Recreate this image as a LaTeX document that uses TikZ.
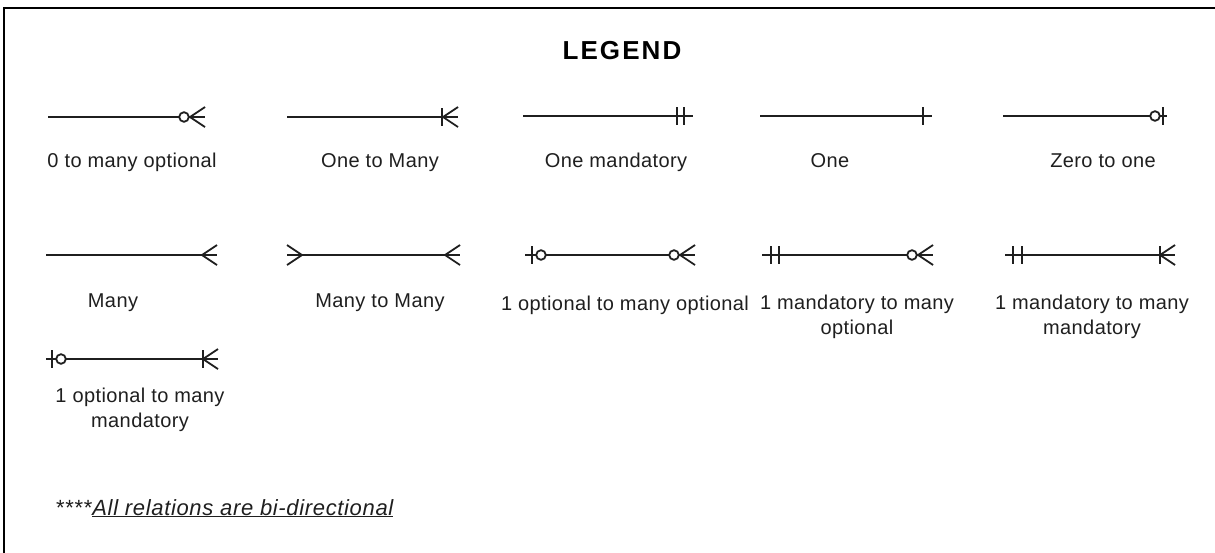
\documentclass[tikz,border=0pt]{standalone}
\usepackage{fontspec}
\setmainfont{Liberation Sans}
\newfontfamily\lblfont{Liberation Sans}[LetterSpace=2]
\newfontfamily\ttlfont{Liberation Sans}[LetterSpace=8]
\newfontfamily\ftfont{Liberation Sans}[LetterSpace=3]
\begin{document}
\begin{tikzpicture}[x=1pt,y=-1pt,
  rel/.style={line width=1.8pt, draw=black!88},
  lbl/.style={font=\lblfont\fontsize{20}{25}\selectfont, text=black!88, align=center, inner sep=0pt},
  crowfoot/.pic={\draw[rel] (-15,0) -- (0,-10) (-15,0) -- (0,10);},
  tick/.pic={\draw[rel] (0,-9) -- (0,9);},
  ring/.pic={\draw[rel,fill=white] (0,0) circle[radius=4.8pt];},
]
\useasboundingbox (0,0) rectangle (1215,552);
\fill[white] (0,0) rectangle (1215,552);
\draw[line width=2pt] (4,570) -- (4,8) -- (1230,8);

\node[font=\ttlfont\bfseries\fontsize{26}{30}\selectfont, anchor=base, inner sep=0pt] (title) at (622,59) {LEGEND};

% Row 1
\coordinate (a1) at (48,117);   \coordinate (a2) at (205,117);
\coordinate (b1) at (287,117);  \coordinate (b2) at (458,117);
\coordinate (c1) at (523,116);  \coordinate (c2) at (693,116);
\coordinate (d1) at (760,116);  \coordinate (d2) at (932,116);
\coordinate (e1) at (1003,116); \coordinate (e2) at (1167,116);
\draw[rel] (a1) -- (a2);
\draw[rel] (b1) -- (b2);
\draw[rel] (c1) -- (c2);
\draw[rel] (d1) -- (d2);
\draw[rel] (e1) -- (e2);
\path (a2) pic {crowfoot} (184,117) pic {ring};
\path (b2) pic {crowfoot} (442,117) pic {tick};
\path (677,116) pic {tick} (684,116) pic {tick};
\path (923,116) pic {tick};
\path (1155,116) pic {ring} (1163,116) pic {tick};

\node[lbl, anchor=base] (la) at (132,167) {0 to many optional};
\node[lbl, anchor=base] (lb) at (380,167) {One to Many};
\node[lbl, anchor=base] (lc) at (616,167) {One mandatory};
\node[lbl, anchor=base] (ld) at (830,167) {One};
\node[lbl, anchor=base] (le) at (1103,167) {Zero to one};

% Row 2
\coordinate (f1) at (46,255);   \coordinate (f2) at (217,255);
\coordinate (g1) at (287,255);  \coordinate (g2) at (460,255);
\coordinate (h1) at (525,255);  \coordinate (h2) at (695,255);
\coordinate (i1) at (762,255);  \coordinate (i2) at (933,255);
\coordinate (j1) at (1005,255); \coordinate (j2) at (1175,255);
\draw[rel] (f1) -- (f2);
\draw[rel] (g1) -- (g2);
\draw[rel] (h1) -- (h2);
\draw[rel] (i1) -- (i2);
\draw[rel] (j1) -- (j2);
\path (f2) pic {crowfoot};
\path (g2) pic {crowfoot} (g1) pic[xscale=-1] {crowfoot};
\path (532,255) pic {tick} (541,255) pic {ring} (674,255) pic {ring} (h2) pic {crowfoot};
\path (771,255) pic {tick} (779,255) pic {tick} (912,255) pic {ring} (i2) pic {crowfoot};
\path (1013,255) pic {tick} (1022,255) pic {tick} (1160,255) pic {tick} (j2) pic {crowfoot};

\node[lbl, anchor=base] (lf) at (113,307) {Many};
\node[lbl, anchor=base] (lg) at (380,307) {Many to Many};
\node[lbl, anchor=base] (lh) at (625,310) {1 optional to many optional};
\node[lbl, anchor=north] (li) at (857,294.5) {1 mandatory to many\\optional};
\node[lbl, anchor=north] (lj) at (1092,294.5) {1 mandatory to many\\mandatory};

% Row 3
\coordinate (k1) at (46,359);   \coordinate (k2) at (218,359);
\draw[rel] (k1) -- (k2);
\path (52,359) pic {tick} (61,359) pic {ring} (203,359) pic {tick} (k2) pic {crowfoot};
\node[lbl, anchor=north] (lk) at (140,387.5) {1 optional to many\\mandatory};

% Footer
\node[font=\ftfont\fontsize{22}{26}\selectfont, text=black!88, anchor=base west, inner sep=0pt] (note) at (56,515)
  {****\underline{\itshape All relations are bi-directional}};
\end{tikzpicture}
\end{document}
